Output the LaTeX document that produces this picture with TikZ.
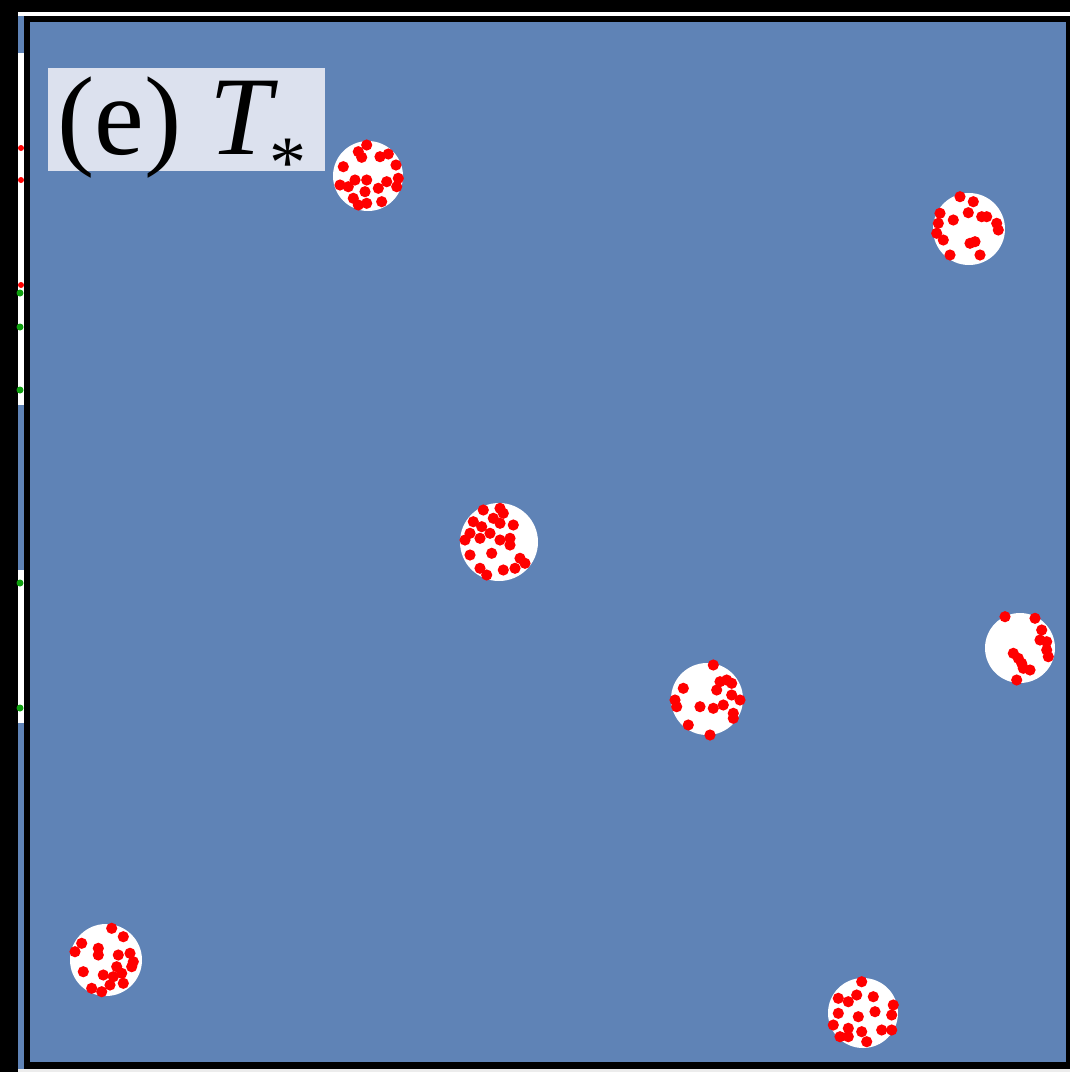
\documentclass[tikz,border=0pt]{standalone}
\usepackage{fontspec}
\setmainfont{Liberation Serif}
\definecolor{panelblue}{HTML}{5F83B6}
\definecolor{labelbg}{HTML}{DCE1EE}
\definecolor{dotred}{HTML}{FF0000}
\definecolor{dotgreen}{HTML}{10A010}
\tikzset{
  disc/.style={fill=white, draw=none},
  rdot/.style={fill=dotred, draw=none},
  gdot/.style={fill=dotgreen, draw=none},
}
\begin{document}
\begin{tikzpicture}[x=1pt,y=-1pt]
\useasboundingbox (0,0) rectangle (1070,1072);
% black background
\fill[black] (0,0) rectangle (1070,1072);
% white top line and bottom line
\fill[white] (18,12) rectangle (1070,16);
\fill[white!85!gray] (18,1069) rectangle (1070,1072);
% left strip
\fill[panelblue] (18,16) rectangle (24,1069);
\fill[white] (18,53) rectangle (24,405);
\fill[white] (18,570) rectangle (24,723);
\foreach \yy in {148,180,285} \fill[rdot] (21,\yy) circle (3);
\foreach \yy in {293,327,390,583,708} \fill[gdot] (20,\yy) circle (3.5);
% panel
\fill[panelblue] (27,19) rectangle (1067,1065);
\draw[black, line width=6pt] (27,19) rectangle (1069,1065);
\fill[panelblue] (30,22) rectangle (1066,1062);
% label
\fill[labelbg] (48,68) rectangle (325,171);
\node[anchor=base west, inner sep=0pt, font=\fontsize{112}{120}\selectfont] (lbl) at (57,154)
  {(e) \textit{T}\kern-9pt\raisebox{-33pt}{\fontsize{74}{74}\selectfont *}};
% discs
\foreach \cx/\cy/\r [count=\i] in {368/176/35, 969/229/36, 499/542/39, 1020/648/35, 707/699/36, 106/960/36, 863/1013/35}
  \fill[disc] (\cx,\cy) circle (\r);
% red dots
\def\dr{5.6}
\foreach \xx/\yy in {366.7/145, 358.3/151.7, 361.7/157.3, 380/156.7, 388.3/154, 396/165, 343.3/166.7, 398.3/178.3, 340/185, 348.3/186.7, 355/180, 366.7/180, 365/191.7, 378.3/188.3, 386.7/181.7, 396.7/186.7, 353.3/198.3, 366.7/203.3, 381.7/201.7, 358.3/205}
  \fill[rdot] (\xx,\yy) circle (\dr);
\foreach \xx/\yy in {960/196.7, 973.3/201.7, 968.3/212.7, 981.7/216.7, 986.7/216.7, 996.7/223.3, 998.3/230, 940/213.3, 938.3/223.3, 936.7/233.3, 953.3/220, 943.3/240, 970/243.3, 975/241.7, 950/255, 980/255}
  \fill[rdot] (\xx,\yy) circle (\dr);
\foreach \xx/\yy in {483.3/510, 500/508.3, 503.3/513.3, 493.3/518.3, 473.3/521.7, 481.7/526.7, 500/523.3, 513.3/525, 470/533.3, 480/538.3, 490/533.3, 500/540, 510/538.3, 510/545, 465/540, 470/555, 491.7/553.3, 520/558.3, 480/568.3, 503.3/570, 515/568.3, 486.7/575, 525/563.3}
  \fill[rdot] (\xx,\yy) circle (\dr);
\foreach \xx/\yy in {1005/616.7, 1035/618.3, 1041.7/630, 1040/640, 1046.7/641.7, 1046.7/650, 1048.3/656.7, 1013.3/653.3, 1018.3/658.3, 1021.7/663.3, 1023.3/668.3, 1030/670, 1016.7/680}
  \fill[rdot] (\xx,\yy) circle (\dr);
\foreach \xx/\yy in {713.3/665, 720/681.7, 726.7/680, 731.7/683.3, 716.7/690, 731.7/695, 683.3/688.3, 675/700, 676.7/706.7, 700/706.7, 713.3/708.3, 723.3/705, 740/700, 733.3/713.3, 733.3/718.3, 688.3/725, 710/735}
  \fill[rdot] (\xx,\yy) circle (\dr);
\foreach \xx/\yy in {111.7/928.3, 123.3/936.7, 81.7/943.3, 75/951.7, 98.3/948.3, 98.3/955, 118.3/955, 130/953.3, 133.3/961.7, 131.7/966.7, 116.7/966.7, 83.3/971.7, 103.3/975, 113.3/976.7, 121.7/973.3, 110/985, 123.3/983.3, 91.7/988.3, 101.7/991.7}
  \fill[rdot] (\xx,\yy) circle (\dr);
\foreach \xx/\yy in {861.7/981.7, 838.3/998.3, 848.3/1001.7, 856.7/995, 873.3/996.7, 893.3/1005, 891.7/1015, 838.3/1013.3, 858.3/1016.7, 875/1011.7, 833.3/1025, 848.3/1028.3, 861.7/1031.7, 881.7/1030, 891.7/1030, 848.3/1036.7, 866.7/1041.7, 840/1036.7}
  \fill[rdot] (\xx,\yy) circle (\dr);
\end{tikzpicture}
\end{document}
